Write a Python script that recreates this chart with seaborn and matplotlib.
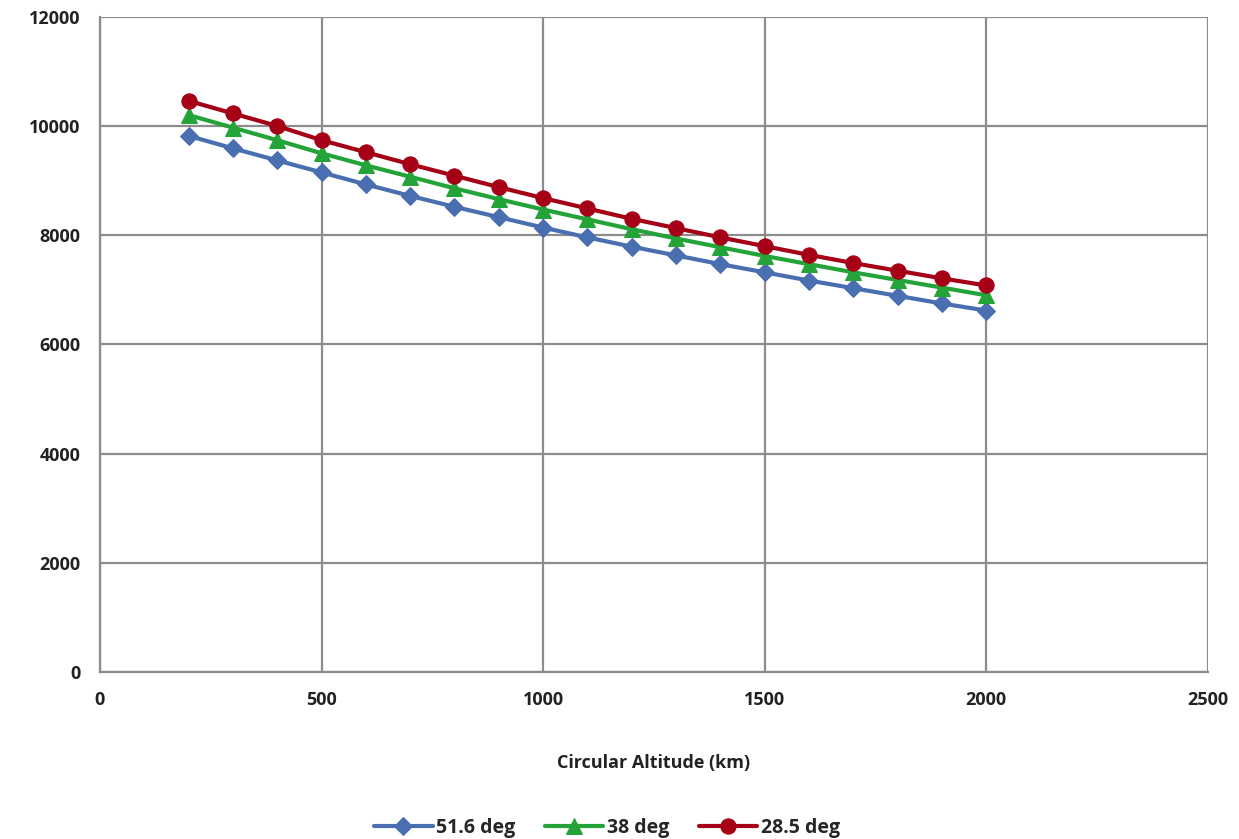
import pandas as pd
import matplotlib
matplotlib.use('Agg')
import matplotlib.pyplot as plt
import seaborn as sns

# Data
altitude_km = [200, 300, 400, 500, 600, 700, 800, 900, 1000, 1100,
               1200, 1300, 1400, 1500, 1600, 1700, 1800, 1900, 2000]
inc_51_6 = [9820, 9590, 9370, 9150, 8930, 8720, 8520, 8330, 8140, 7960,
            7790, 7630, 7470, 7320, 7170, 7030, 6890, 6750, 6620]
inc_38 = [10200, 9970, 9740, 9500, 9280, 9070, 8860, 8660, 8470, 8290,
          8110, 7940, 7780, 7620, 7470, 7320, 7180, 7040, 6900]
inc_28_5 = [10460, 10230, 10000, 9740, 9520, 9300, 9090, 8880, 8680, 8490,
            8300, 8130, 7960, 7800, 7640, 7490, 7350, 7210, 7080]
series_names = ['51.6 deg', '38 deg', '28.5 deg']
x_ticks = [0, 500, 1000, 1500, 2000, 2500]
y_ticks = [0, 2000, 4000, 6000, 8000, 10000, 12000]

sns.set_style('white')
plt.rcParams['font.family'] = ['Open Sans', 'DejaVu Sans']

df = pd.DataFrame({
    'alt': altitude_km * 3,
    'val': inc_51_6 + inc_38 + inc_28_5,
    'series': [s for s in series_names for _ in altitude_km],
})

colors = {'51.6 deg': '#4a6fb0', '38 deg': '#24a339', '28.5 deg': '#a50015'}
markers = {'51.6 deg': 'D', '38 deg': '^', '28.5 deg': 'o'}
msizes = {'51.6 deg': 9, '38 deg': 11, '28.5 deg': 11}

fig = plt.figure(figsize=(12.39, 8.39), dpi=100)
ax = fig.add_axes([0.0807, 0.199, 0.894, 0.781])

for name in series_names:
    sub = df[df['series'] == name]
    sns.lineplot(data=sub, x='alt', y='val', ax=ax, color=colors[name],
                 marker=markers[name], markersize=msizes[name],
                 markeredgecolor=colors[name], linewidth=3, label=name,
                 zorder=3)

ax.set_xlim(0, 2500)
ax.set_ylim(0, 12000)
ax.set_xticks(x_ticks)
ax.set_yticks(y_ticks)
ax.grid(True, color='#8c8c8c', linewidth=1.6)
for side in ['top', 'right']:
    ax.spines[side].set_visible(False)
for side in ['left', 'bottom']:
    ax.spines[side].set_color('#8c8c8c')
    ax.spines[side].set_linewidth(1.6)
ax.tick_params(axis='both', length=6, width=1.6, color='#8c8c8c',
               labelsize=13, pad=8)
for lbl in ax.get_xticklabels() + ax.get_yticklabels():
    lbl.set_fontweight('bold')
    lbl.set_color('#222222')

ax.set_xlabel('Circular Altitude (km)', fontsize=13, fontweight='bold',
              color='#222222', labelpad=32)
ax.set_ylabel('')

ax.get_legend().remove()
handles, labels = ax.get_legend_handles_labels()
fig.legend(handles, labels, loc='lower center', bbox_to_anchor=(0.49, -0.02),
           ncol=3, frameon=False, handlelength=3,
           columnspacing=1.5, handletextpad=0.2,
           prop={'weight': 'bold', 'size': 14})

fig.savefig('out.png', dpi=100)
